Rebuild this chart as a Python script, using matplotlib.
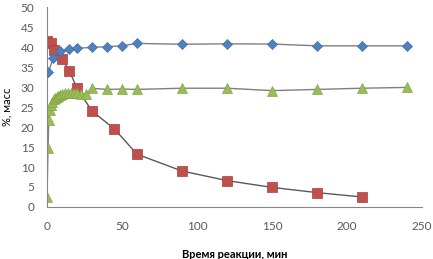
import numpy as np
import matplotlib
matplotlib.use('Agg')
import matplotlib.pyplot as plt

plt.rcParams['font.family'] = ['Lato', 'DejaVu Sans']

# blue diamonds
t_blue = [1, 4, 9, 15, 20, 30, 40, 50, 60, 90, 120, 150, 180, 210, 240]
v_blue = [33.7, 37.2, 38.9, 39.5, 39.7, 39.9, 40.1, 40.3, 40.9, 40.7, 40.8, 40.75, 40.3, 40.3, 40.3]

# red squares
t_red = [0, 3, 5, 10, 15, 20, 30, 45, 60, 90, 120, 150, 180, 210]
v_red = [41.6, 41.1, 39.3, 37.0, 34.0, 29.7, 24.0, 19.5, 13.2, 9.0, 6.6, 4.9, 3.6, 2.5]

# green triangles
t_green = [0, 0.7, 1.2, 1.8, 2.5, 3.5, 4.5, 5.5, 6.5, 7.5, 8.5, 10, 12, 14, 16, 18, 20, 23, 26,
           30, 40, 50, 60, 90, 120, 150, 180, 210, 240]
v_green = [2.5, 14.8, 21.8, 24.3, 25.5, 26.3, 26.9, 27.3, 27.6, 27.8, 28.0, 28.2, 28.4, 28.5,
           28.5, 28.5, 28.4, 28.3, 28.2,
           29.7, 29.4, 29.5, 29.4, 29.7, 29.7, 29.1, 29.4, 29.7, 29.9]

fig = plt.figure(figsize=(4.33, 2.59), dpi=100)
ax = fig.add_axes([0.1085, 0.2008, 0.866, 0.772])

line_kw = dict(color='#7f7f7f', lw=1.0, zorder=1)
ax.plot(t_blue, v_blue, **line_kw)
ax.plot(t_green, v_green, **line_kw)
ax.plot(t_red, v_red, color='#595959', lw=1.0, zorder=1)

ax.plot(t_blue, v_blue, ls='none', marker='D', ms=5.2, color='#4F81BD',
        mec='#3f6fa8', mew=0.5, zorder=3)
ax.plot(t_red, v_red, ls='none', marker='s', ms=6.5, color='#C0504D',
        mec='#a33f3c', mew=0.5, zorder=2)
ax.plot(t_green, v_green, ls='none', marker='^', ms=6.8, color='#9BBB59',
        mec='#86a548', mew=0.5, zorder=2)

ax.set_xlim(0, 250)
ax.set_ylim(0, 50)
ax.set_xticks(np.arange(0, 251, 50))
ax.set_yticks(np.arange(0, 51, 5))

for s in ['top', 'right']:
    ax.spines[s].set_visible(False)
for s in ['left', 'bottom']:
    ax.spines[s].set_color('#868686')
    ax.spines[s].set_linewidth(0.8)

ax.tick_params(length=0, labelsize=8.5, labelcolor='#595959')
ax.tick_params(axis='x', pad=10)
ax.tick_params(axis='y', pad=9)

ax.set_xlabel('Время реакции, мин', fontsize=8, fontweight='bold', labelpad=12)
ax.set_ylabel('%, масс', fontsize=8, labelpad=6)

fig.savefig('out.png', dpi=100)
